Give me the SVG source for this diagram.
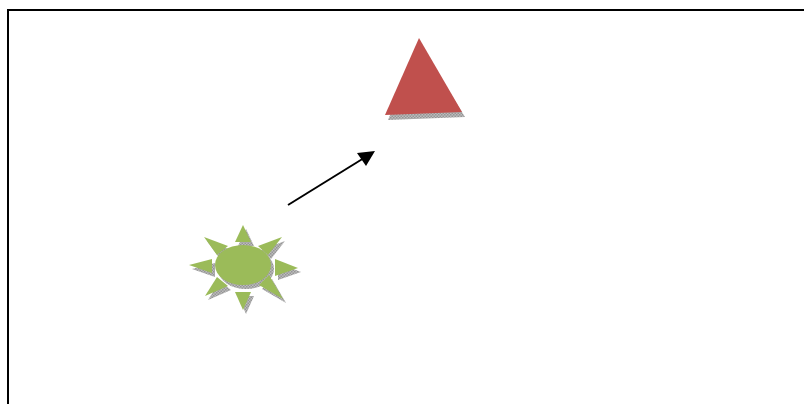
<svg xmlns="http://www.w3.org/2000/svg" width="804" height="404" viewBox="0 0 804 404">
  <defs>
    <pattern id="hatch" width="3" height="3" patternUnits="userSpaceOnUse">
      <rect width="3" height="3" fill="#bdbdbd"/>
      <rect width="1.5" height="1.5" fill="#959595"/>
      <rect x="1.5" y="1.5" width="1.5" height="1.5" fill="#959595"/>
    </pattern>
    <g id="sun-shape">
      <ellipse cx="243" cy="265" rx="28" ry="20"/>
      <polygon points="243,225 235,242 251,242"/>
      <polygon points="243,310 235,292 251,292"/>
      <polygon points="189,265 212,259 212,273"/>
      <polygon points="298,268 275,259 275,276"/>
      <polygon points="204,237 228,246 217,255"/>
      <polygon points="282,237 258,246 268,255"/>
      <polygon points="205,296 217,277 228,286"/>
      <polygon points="283,299 259,285 269,275"/>
    </g>
  </defs>
  <style>
    .frame { fill: none; stroke: #000; stroke-width: 2; }
    .shadow { fill: url(#hatch); }
    .connector { stroke: #000; stroke-width: 2; fill: none; }
  </style>

  <rect width="804" height="404" fill="#fff"/>
  <path class="frame" d="M8,404 V10 H804"/>

  <g id="sun">
    <use href="#sun-shape" class="shadow" transform="translate(3,4)"/>
    <use href="#sun-shape" fill="#9bbb59"/>
  </g>

  <g id="triangle">
    <polygon class="shadow" points="420,44 388,120 465,117"/>
    <polygon points="419,38 385,115 462,112" fill="#c0504d"/>
  </g>

  <g id="connectors">
    <line class="connector" x1="288" y1="205" x2="364" y2="158"/>
    <path d="M375,151 L357,153 L366,166 Z" fill="#000"/>
  </g>
</svg>
